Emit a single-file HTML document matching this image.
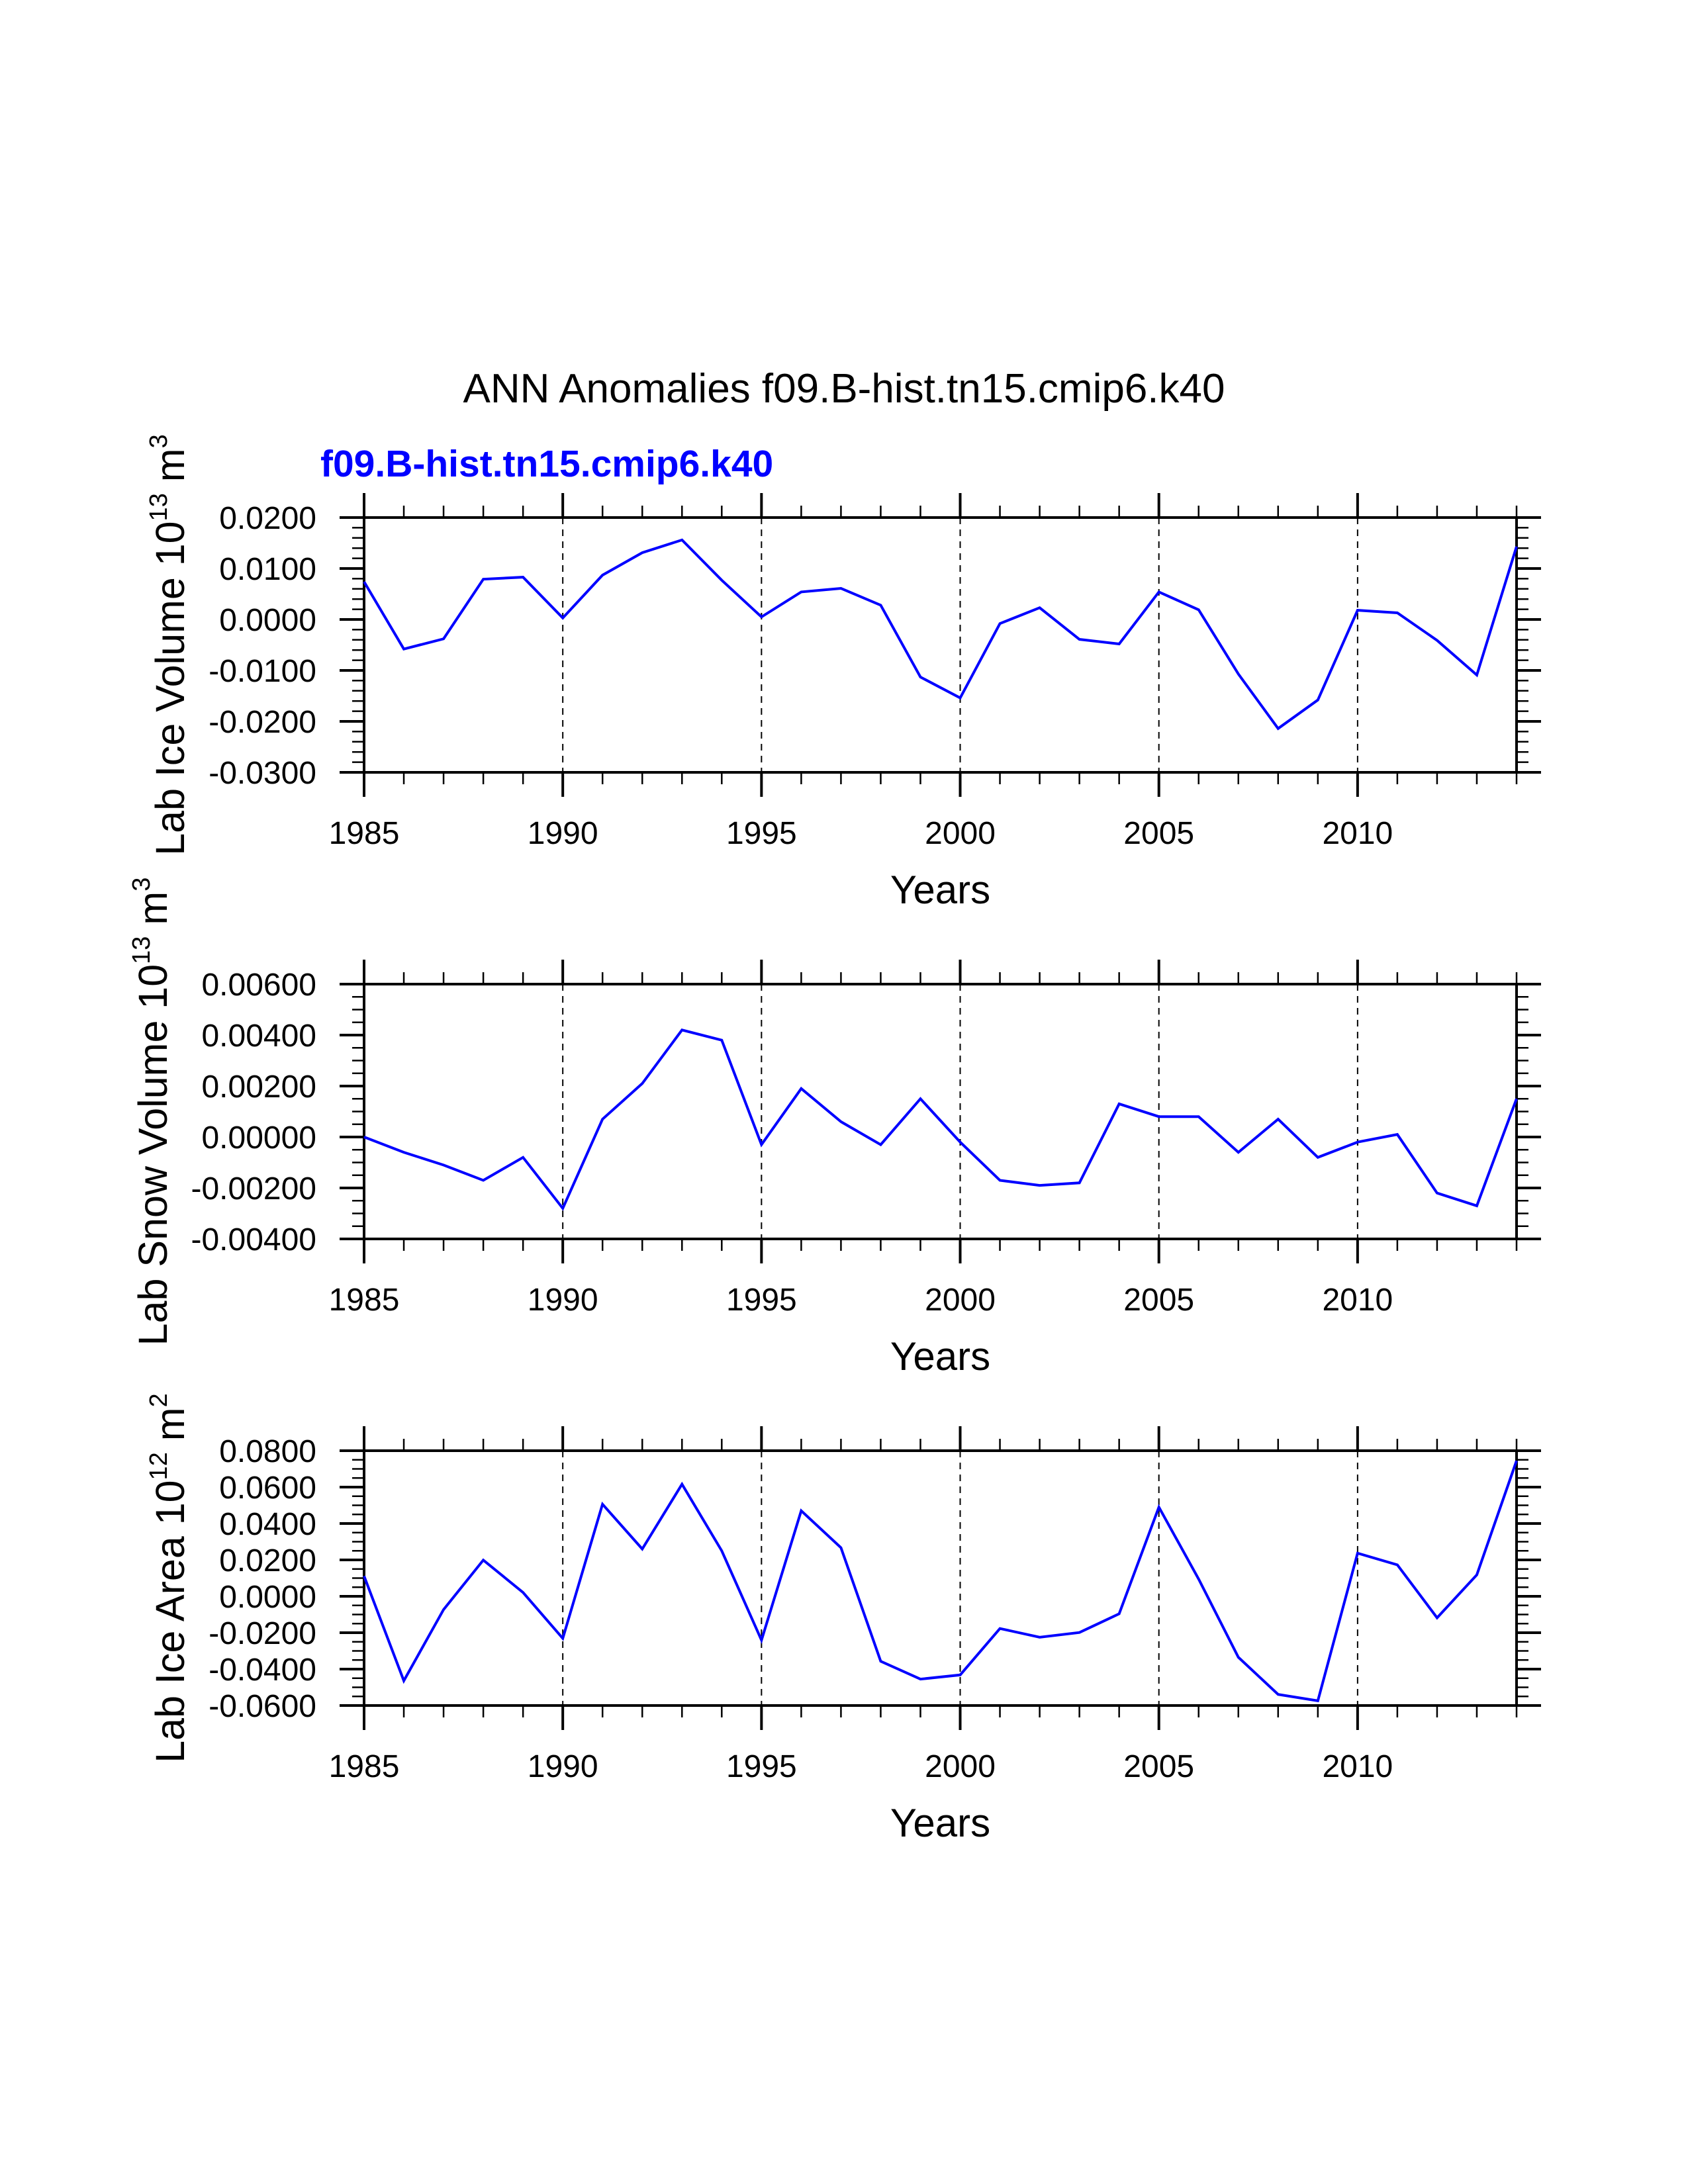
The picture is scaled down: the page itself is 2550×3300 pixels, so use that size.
<!DOCTYPE html>
<html><head><meta charset="utf-8"><style>
html,body{margin:0;padding:0;background:#fff}
svg{display:block}
text{font-family:"Liberation Sans",Arial,sans-serif}
</style></head><body>
<svg id="chart" width="2550" height="3300" viewBox="0 0 2550 3300" xmlns="http://www.w3.org/2000/svg">
<text x="1275" y="608" font-size="62" text-anchor="middle">ANN Anomalies f09.B-hist.tn15.cmip6.k40</text>
<text x="484" y="720" font-size="57" font-weight="bold" fill="#0000ff">f09.B-hist.tn15.cmip6.k40</text>
</svg>
<script>
const years = [1985,1986,1987,1988,1989,1990,1991,1992,1993,1994,1995,1996,1997,1998,1999,2000,2001,2002,2003,2004,2005,2006,2007,2008,2009,2010,2011,2012,2013,2014];
const iceVolume = [0.0074,-0.0058,-0.0038,0.0079,0.0083,0.0003,0.0087,0.0131,0.0156,0.0077,0.0005,0.0054,0.0061,0.0028,-0.0113,-0.0154,-0.0008,0.0023,-0.0039,-0.0048,0.0054,0.0019,-0.0107,-0.0214,-0.0158,0.0018,0.0013,-0.0041,-0.0109,0.0143];
const snowVolume = [0.0000,-0.0006,-0.0011,-0.0017,-0.0008,-0.0028,0.0007,0.0021,0.0042,0.0038,-0.0003,0.0019,0.0006,-0.0003,0.0015,-0.0002,-0.0017,-0.0019,-0.0018,0.0013,0.0008,0.0008,-0.0006,0.0007,-0.0008,-0.0002,0.0001,-0.0022,-0.0027,0.0015];
const iceArea = [0.0111,-0.0464,-0.0073,0.0199,0.0021,-0.0231,0.0506,0.0260,0.0616,0.0250,-0.0241,0.0470,0.0267,-0.0357,-0.0455,-0.0432,-0.0177,-0.0225,-0.0199,-0.0096,0.0490,0.0095,-0.0335,-0.0539,-0.0574,0.0237,0.0173,-0.0118,0.0118,0.0745];
const xTickLabels = ["1985","1990","1995","2000","2005","2010"];
const iceVolTicks = ["0.0200","0.0100","0.0000","-0.0100","-0.0200","-0.0300"];
const snowTicks = ["0.00600","0.00400","0.00200","0.00000","-0.00200","-0.00400"];
const areaTicks = ["0.0800","0.0600","0.0400","0.0200","0.0000","-0.0200","-0.0400","-0.0600"];

const NS="http://www.w3.org/2000/svg";
const svg=document.getElementById('chart');
function mk(tag,attrs,parent){const e=document.createElementNS(NS,tag);for(const k in attrs)e.setAttribute(k,attrs[k]);(parent||svg).appendChild(e);return e;}

const L=550,R=2291,H=385;
function xs(y){return L+(y-1985)/(2014-1985)*(R-L);}

function panel(cfg){
  const T=cfg.top,B=T+H;
  const g=mk('g',{});
  
  
  const ys=v=>T+(cfg.max-v)/(cfg.max-cfg.min)*H;
  for(let y=1990;y<=2010;y+=5){
    const d=mk('line',{x1:xs(y),x2:xs(y),y1:T,y2:B,stroke:'#000','stroke-width':2,'stroke-dasharray':'10,8'},g);
    
    
  }
  for(let y=1985;y<=2014;y++){
    const major=(y%5===0);const len=major?37:18;
    mk('line',{x1:xs(y),x2:xs(y),y1:B,y2:B+len,stroke:'#000','stroke-width':major?4:2.5},g);
    mk('line',{x1:xs(y),x2:xs(y),y1:T,y2:T-len,stroke:'#000','stroke-width':major?4:2.5},g);
  }
  xTickLabels.forEach(s=>{
    const t=mk('text',{x:xs(+s),y:B+108,'font-size':48,'text-anchor':'middle'},g);
    t.textContent=s;
    
    
  });
  const n=Math.round((cfg.max-cfg.min)/cfg.minor);
  for(let i=0;i<=n;i++){
    const v=cfg.max-i*cfg.minor;const yy=ys(v);
    const major=(i%cfg.per===0);const len=major?37:18;
    mk('line',{x1:L-len,x2:L,y1:yy,y2:yy,stroke:'#000','stroke-width':major?4:2.5},g);
    mk('line',{x1:R,x2:R+len,y1:yy,y2:yy,stroke:'#000','stroke-width':major?4:2.5},g);
  }
  cfg.labels.forEach(s=>{
    const t=mk('text',{x:478,y:ys(parseFloat(s))+17,'font-size':48,'text-anchor':'end'},g);
    t.textContent=s;
    
    
  });
  const f=mk('rect',{x:L,y:T,width:R-L,height:H,fill:'none',stroke:'#000','stroke-width':4},g);
  
  
  const pts=years.map((y,i)=>xs(y)+','+ys(cfg.data[i])).join(' ');
  const p=mk('polyline',{points:pts,fill:'none',stroke:'#0000ff','stroke-width':4,'stroke-linejoin':'miter'},g);
  
  
  const xt=mk('text',{x:(L+R)/2,y:B+198,'font-size':60,'text-anchor':'middle'},g);
  xt.textContent='Years';
  
  
  const cy=T+H/2;
  const yt=mk('text',{x:0,y:0,'font-size':61,'text-anchor':'middle',transform:'translate('+cfg.tx+','+cy+') rotate(-90)'},g);
  
  
  yt.innerHTML=cfg.title+' 10<tspan dy="-26" font-size="38">'+cfg.exp+'</tspan><tspan dy="26"> m</tspan><tspan dy="-26" font-size="38">'+cfg.pow+'</tspan>';
}

panel({name:'ice-volume-panel',top:782,max:0.02,min:-0.03,minor:0.002,per:5,labels:iceVolTicks,data:iceVolume,tx:278,title:'Lab Ice Volume',exp:'13',pow:'3'});
panel({name:'snow-volume-panel',top:1487,max:0.006,min:-0.004,minor:0.0005,per:4,labels:snowTicks,data:snowVolume,tx:252,title:'Lab Snow Volume',exp:'13',pow:'3'});
panel({name:'ice-area-panel',top:2192,max:0.08,min:-0.06,minor:0.005,per:4,labels:areaTicks,data:iceArea,tx:278,title:'Lab Ice Area',exp:'12',pow:'2'});
</script>
</body></html>
